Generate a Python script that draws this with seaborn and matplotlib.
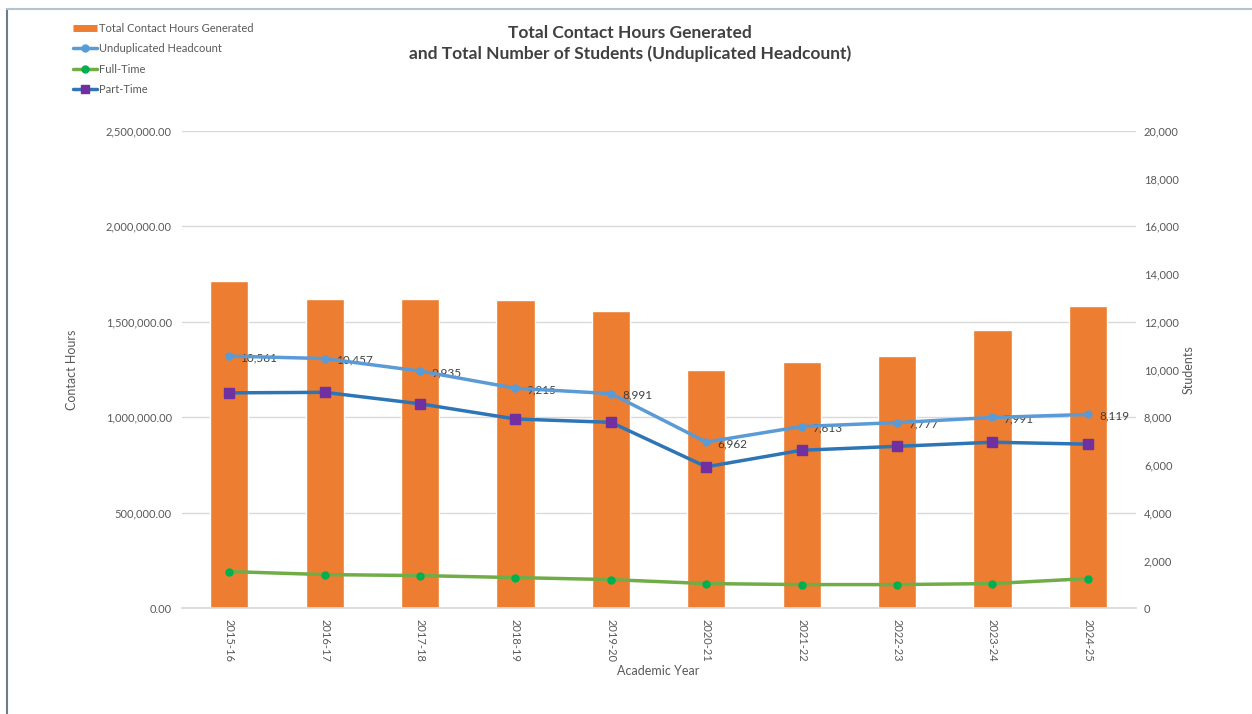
import matplotlib
matplotlib.use("Agg")
import matplotlib.pyplot as plt
import matplotlib.ticker as mticker
from matplotlib.lines import Line2D
import numpy as np
import pandas as pd
import seaborn as sns

years = ["2015-16", "2016-17", "2017-18", "2018-19", "2019-20",
         "2020-21", "2021-22", "2022-23", "2023-24", "2024-25"]
contact_hours = [1715000, 1619000, 1619000, 1614000, 1557000,
                 1247000, 1289000, 1320000, 1457000, 1583000]
headcount = [10561, 10457, 9935, 9215, 8991, 6962, 7613, 7777, 7991, 8119]
full_time = [1539, 1413, 1371, 1287, 1203, 1036, 994, 994, 1036, 1245]
part_time = [9022, 9044, 8564, 7928, 7788, 5926, 6619, 6783, 6955, 6874]

ORANGE = "#ED7D31"
LBLUE = "#5B9BD5"
GREEN = "#70AD47"
DGREEN = "#00B050"
BLUE = "#2E75B6"
PURPLE = "#7030A0"
GREY = "#595959"

sns.set_theme(style="white")
plt.rcParams["font.family"] = ["Lato", "DejaVu Sans"]

df = pd.DataFrame({"year": years, "hours": contact_hours})

fig = plt.figure(figsize=(12.52, 7.14), dpi=100)
ax = fig.add_axes([0.145, 0.148, 0.762, 0.669])

sns.barplot(data=df, x="year", y="hours", color=ORANGE, width=0.4,
            saturation=1, ax=ax, zorder=2)
ax.set_ylim(0, 2500000)
ax.yaxis.set_major_locator(mticker.MultipleLocator(500000))
ax.yaxis.set_major_formatter(mticker.FuncFormatter(lambda v, p: f"{v:,.2f}"))
ax.grid(axis="y", color="#D9D9D9", linewidth=1, zorder=0)
ax.set_axisbelow(True)
for s in ax.spines.values():
    s.set_visible(False)
ax.spines["bottom"].set_visible(True)
ax.spines["bottom"].set_color("#D9D9D9")
ax.tick_params(axis="both", length=0, colors=GREY, labelsize=8, pad=7)
ax.tick_params(axis="x", pad=8)
for lbl in ax.get_xticklabels():
    lbl.set_rotation(270)
ax.set_xlabel("Academic Year", color=GREY, fontsize=9, labelpad=2)
ax.set_ylabel("Contact Hours", color=GREY, fontsize=9, labelpad=20)

ax2 = ax.twinx()
x = np.arange(len(years))
ax2.plot(x, headcount, color=LBLUE, lw=2.5, marker="o", ms=5, zorder=4)
ax2.plot(x, full_time, color=GREEN, lw=2.5, marker="o", ms=5,
         markerfacecolor=DGREEN, markeredgecolor=DGREEN, zorder=4)
ax2.plot(x, part_time, color=BLUE, lw=2.5, marker="s", ms=7,
         markerfacecolor=PURPLE, markeredgecolor=PURPLE, zorder=4)
for xi, v in zip(x, headcount):
    ax2.annotate(f"{v:,}", (xi, v), xytext=(8, -1), textcoords="offset points",
                 va="center", ha="left", fontsize=8.5, color="#404040")
ax2.set_ylim(0, 20000)
ax2.set_xlim(-0.5, len(years) - 0.5)
ax2.yaxis.set_major_locator(mticker.MultipleLocator(2000))
ax2.yaxis.set_major_formatter(mticker.FuncFormatter(lambda v, p: f"{int(v):,}"))
ax2.tick_params(axis="y", length=0, colors=GREY, labelsize=8, pad=6)
for s in ax2.spines.values():
    s.set_visible(False)
ax2.set_ylabel("Students", color=GREY, fontsize=9, labelpad=3)
ax2.grid(False)

fig.text(0.503, 0.965, "Total Contact Hours Generated\nand Total Number of Students (Unduplicated Headcount)",
         ha="center", va="top", fontsize=12.5, fontweight="bold", color="#404040",
         linespacing=1.3)

handles = [
    Line2D([0], [0], color=ORANGE, lw=5, solid_capstyle="butt"),
    Line2D([0], [0], color=LBLUE, lw=2.5, marker="o", ms=5),
    Line2D([0], [0], color=GREEN, lw=2.5, marker="o", ms=5,
           markerfacecolor=DGREEN, markeredgecolor=DGREEN),
    Line2D([0], [0], color=BLUE, lw=2.5, marker="s", ms=6,
           markerfacecolor=PURPLE, markeredgecolor=PURPLE),
]
labels = ["Total Contact Hours Generated", "Unduplicated Headcount", "Full-Time", "Part-Time"]
fig.legend(handles, labels, loc="upper left", bbox_to_anchor=(0.05, 0.982),
           frameon=False, fontsize=8, handlelength=2.2, handletextpad=0.2,
           labelspacing=0.85, labelcolor=GREY)

fig.add_artist(Line2D([0.0055, 0.0055], [0, 0.987], color="#6E7B8B", lw=1.5,
                      transform=fig.transFigure))
fig.add_artist(Line2D([0.0055, 1], [0.987, 0.987], color="#B4C3CF", lw=1.5,
                      transform=fig.transFigure))

fig.savefig("out.png", dpi=100)
